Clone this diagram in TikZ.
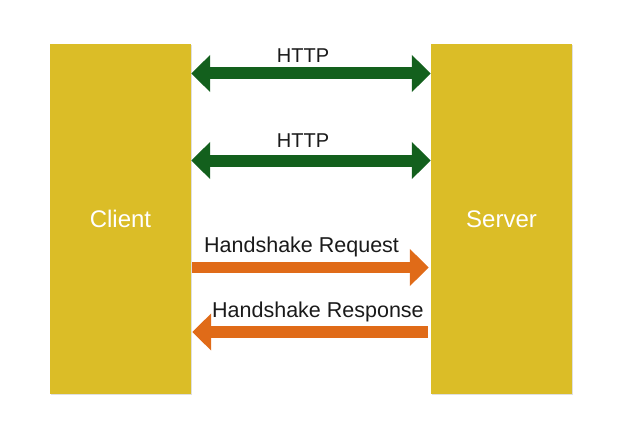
\documentclass[tikz,border=0pt]{standalone}
\usepackage{fontspec}
\setmainfont{Liberation Sans}
\usetikzlibrary{arrows.meta,shadows}
\definecolor{boxgold}{HTML}{DBBD27}
\definecolor{arrowgreen}{HTML}{13601D}
\definecolor{arroworange}{HTML}{E06B18}
\definecolor{labelink}{HTML}{1A1A1A}
\tikzset{
  endbox/.style={fill=boxgold, inner sep=0pt, minimum width=141pt, minimum height=350pt,
    text=white, font=\fontsize{24}{28}\selectfont,
    drop shadow={opacity=0.25, shadow xshift=0.6pt, shadow yshift=-1.2pt}},
  greenarrow/.style={draw=arrowgreen, line width=12pt,
    {Triangle[length=19pt,width=36pt]}-{Triangle[length=19pt,width=36pt]}},
  orangearrow/.style={draw=arroworange, line width=11.5pt,
    -{Triangle[length=19pt,width=36pt]}},
  httplabel/.style={text=labelink, inner sep=0pt, font=\fontsize{20}{24}\selectfont},
  hslabel/.style={text=labelink, inner sep=0pt, font=\fontsize{21.5}{25}\selectfont}
}
\begin{document}
\begin{tikzpicture}[x=1pt,y=-1pt]
\useasboundingbox (0,0) rectangle (622,436);
\node[endbox] (client) at (120.5,219) {Client};
\node[endbox] (server) at (501.5,219) {Server};

\node[httplabel, anchor=base] (h1) at (303,63) {HTTP};
\node[httplabel, anchor=base] (h2) at (303,147) {HTTP};
\node[hslabel, anchor=base west] (hreq) at (204,252) {Handshake Request};
\node[hslabel, anchor=base west] (hres) at (212,317.5) {Handshake Response};

\coordinate (g1) at (0,73.5);
\coordinate (g2) at (0,160.5);
\coordinate (o1) at (0,267.5);
\coordinate (o2) at (0,332);

\draw[greenarrow] (client.east |- g1) -- (server.west |- g1);
\draw[greenarrow] (client.east |- g2) -- (server.west |- g2);
\draw[orangearrow, shorten <=1pt, shorten >=2pt] (client.east |- o1) -- (server.west |- o1);
\draw[orangearrow, shorten <=3pt, shorten >=1pt] (server.west |- o2) -- (client.east |- o2);
\end{tikzpicture}
\end{document}
